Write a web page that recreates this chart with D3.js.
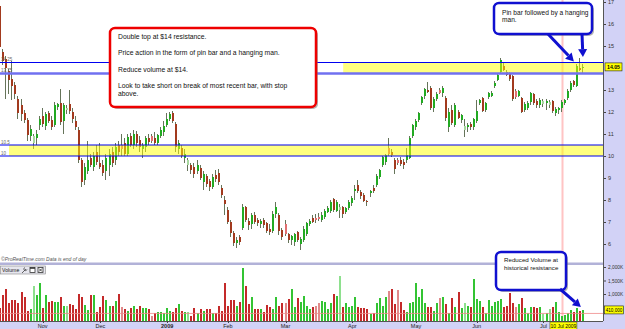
<!DOCTYPE html>
<html>
<head>
<meta charset="utf-8">
<script src="https://cdn.jsdelivr.net/npm/d3@7"></script>
<style>
  body { margin: 0; background: #fff; overflow: hidden; }
  svg { display: block; font-family: "Liberation Sans", Arial, sans-serif; }
</style>
</head>
<body>
<div id="chart"></div>
<script>
// daily bars, [open, high, low, close] (mid Oct 2008 .. 10 Jul 2009)
const bars = [
  [16.8,17.05,14.8,14.95],[14.75,14.85,14.15,14.3],[14.4,14.55,12.6,14.0],[13.85,13.95,12.8,13.45],[13.5,14.3,12.55,13.2],
  [13.25,13.35,12.6,12.8],[12.6,12.75,11.7,11.95],[12.3,12.6,11.6,11.9],[11.95,12.1,11.5,11.65],[11.65,11.75,10.7,10.95],
  [10.9,11.4,10.7,11.25],[10.6,11.0,10.3,10.9],[10.8,11.2,10.5,11.0],[11.4,11.8,11.2,11.7],[11.8,12.2,11.3,11.45],
  [11.35,12.0,11.2,11.9],[11.95,12.05,11.5,11.6],[11.65,11.8,11.2,11.3],[11.4,12.45,11.3,12.3],[12.25,12.4,12.1,12.35],
  [12.4,13.05,11.4,11.55],[11.6,12.4,11.0,12.3],[12.1,12.3,11.9,12.2],[12.35,13.0,11.9,12.05],[12.0,12.2,11.5,11.7],
  [11.6,11.8,11.2,11.3],[11.2,11.3,9.7,9.8],[9.8,9.9,8.6,8.8],[8.9,9.7,8.7,9.5],[9.3,10.7,9.2,9.8],
  [9.9,10.1,9.5,9.6],[9.5,10.2,9.3,10.0],[10.2,10.5,9.6,9.75],[9.7,10.6,9.4,9.5],[9.6,9.8,9.1,9.25],
  [9.3,10.1,8.9,9.9],[9.6,10.3,9.1,10.1],[10.2,10.4,9.5,9.7],[9.8,10.6,9.6,10.4],[10.5,10.7,10.0,10.2],
  [10.5,11.0,10.0,10.3],[10.6,10.8,10.0,10.1],[10.1,11.0,10.0,10.85],[10.9,11.05,10.4,10.5],[10.5,11.2,10.3,11.0],
  [11.0,11.15,10.4,10.6],[10.75,10.9,10.2,10.4],[10.3,10.6,9.9,10.5],[10.4,10.9,10.2,10.8],[10.8,11.0,10.5,10.65],
  [10.9,11.0,10.6,10.7],[10.8,11.1,10.5,10.6],[10.6,11.0,10.5,10.95],[10.9,11.3,10.8,11.2],[11.1,11.6,10.9,11.35],
  [11.4,11.95,11.3,11.7],[11.7,12.0,11.6,11.9],[11.95,12.05,11.5,11.6],[11.45,11.55,10.2,10.4],[10.3,10.75,10.1,10.6],
  [10.35,10.5,9.9,10.0],[9.9,10.3,9.7,10.1],[9.6,9.9,9.3,9.8],[9.6,9.7,9.2,9.35],[9.5,9.7,9.0,9.2],
  [9.3,9.8,9.2,9.6],[9.45,9.6,8.9,9.0],[8.8,9.3,8.45,9.2],[9.1,9.2,8.6,8.75],[8.85,8.95,8.4,8.6],
  [8.6,9.2,8.5,9.05],[9.15,9.35,8.8,8.95],[9.25,9.4,8.7,8.8],[8.55,8.7,8.1,8.25],[8.0,8.2,7.3,7.8],
  [7.55,7.7,6.9,7.0],[7.0,7.1,6.3,6.5],[6.5,6.6,5.9,6.05],[6.05,6.3,5.8,6.2],[6.3,6.4,5.95,6.1],
  [6.75,7.8,6.65,7.7],[7.7,7.75,7.0,7.1],[7.05,7.2,6.65,6.85],[6.9,7.4,6.7,7.3],[7.3,7.45,6.9,7.0],
  [7.1,7.2,6.8,6.95],[6.9,7.15,6.75,7.05],[7.1,7.2,6.75,6.85],[6.95,7.0,6.5,6.6],[6.7,6.9,6.4,6.55],
  [6.6,7.5,6.5,7.35],[7.35,7.9,7.2,7.7],[7.3,7.4,6.4,6.6],[6.65,6.75,6.2,6.3],[6.9,7.1,6.35,6.45],
  [6.45,6.5,6.05,6.2],[6.2,6.4,5.95,6.35],[6.1,6.5,5.9,6.45],[6.55,6.6,6.1,6.2],[6.0,6.3,5.75,6.25],
  [6.2,6.8,6.1,6.7],[6.45,7.0,6.35,6.95],[6.9,7.15,6.8,7.05],[7.2,7.3,6.95,7.0],[7.2,7.35,6.95,7.1],
  [7.25,7.4,7.05,7.15],[7.1,7.45,7.0,7.3],[7.25,7.6,7.15,7.5],[7.45,7.75,7.4,7.65],[7.5,8.0,7.4,7.9],
  [8.05,8.1,7.45,7.55],[7.5,8.0,7.45,7.9],[7.55,7.8,7.2,7.7],[7.7,7.75,7.2,7.35],[7.45,7.7,7.35,7.65],
  [7.65,8.0,7.55,7.9],[7.85,8.2,7.75,8.1],[8.4,8.7,8.0,8.5],[8.7,8.9,8.3,8.4],[8.35,8.45,8.05,8.2],
  [8.25,8.3,7.9,7.95],[7.95,8.0,7.75,7.9],[8.3,8.45,8.15,8.4],[8.55,8.7,8.3,8.4],[8.7,9.2,8.6,9.1],
  [9.05,9.4,8.95,9.35],[9.6,10.0,9.5,9.95],[9.75,10.1,9.6,10.05],[10.35,10.8,10.0,10.1],[10.2,10.3,9.95,10.05],
  [9.8,9.9,9.2,9.4],[9.8,9.9,9.6,9.7],[9.8,9.95,9.55,9.65],[9.75,9.85,9.4,9.6],[9.8,10.35,9.7,10.05],
  [9.9,10.9,9.85,10.8],[10.9,11.45,10.8,11.4],[11.3,11.7,11.2,11.6],[11.65,12.0,11.55,11.95],[12.4,12.75,12.3,12.7],
  [12.75,13.1,12.6,13.05],[13.0,13.35,12.85,12.9],[13.1,13.2,12.1,12.2],[12.2,12.7,12.0,12.6],[12.6,12.9,12.5,12.8],
  [13.0,13.1,12.8,12.85],[12.85,13.2,12.7,13.1],[12.65,12.75,11.6,11.75],[11.3,12.2,11.1,12.0],[12.1,12.3,11.4,11.5],
  [11.4,12.4,11.3,12.3],[12.0,12.1,11.7,11.75],[11.65,11.9,11.5,11.85],[11.2,11.7,10.85,11.35],[11.3,11.5,11.1,11.4],
  [11.45,11.55,11.2,11.3],[11.3,11.75,11.2,11.7],[11.6,12.55,11.5,12.05],[12.4,12.6,12.3,12.55],[12.65,12.7,12.0,12.05],
  [12.1,12.45,12.0,12.4],[12.7,12.9,12.6,12.85],[12.75,12.95,12.7,12.85],[13.2,13.4,13.1,13.3],[13.45,13.75,13.4,13.7],
  [13.8,14.45,13.75,14.35],[14.1,14.25,13.85,13.9],[13.8,13.9,13.65,13.7],[13.75,13.8,13.4,13.5],[13.65,13.7,12.5,12.6],
  [12.95,13.05,12.6,12.7],[12.75,13.0,12.7,12.95],[12.65,12.7,11.95,12.0],[12.1,12.45,12.0,12.35],[12.2,12.5,12.1,12.4],
  [12.45,12.9,12.3,12.85],[12.8,12.85,12.3,12.4],[12.5,12.6,12.2,12.3],[12.3,12.65,12.2,12.55],[12.35,12.6,12.25,12.5],
  [12.4,12.6,12.1,12.5],[12.3,12.55,12.2,12.45],[12.5,12.55,11.95,12.05],[11.95,12.25,11.8,12.15],[12.1,12.25,11.9,12.2],
  [12.2,12.55,12.0,12.45],[12.4,12.6,12.3,12.55],[12.65,13.05,12.55,12.95],[13.0,13.4,12.9,13.3],[13.4,13.45,13.15,13.25],
  [13.2,14.2,13.15,14.1],[14.0,14.45,13.85,13.9],[14.0,14.2,13.75,14.05]
];

// daily volume, thousands of shares
const volume = [
  480,960,1190,670,780,780,670,1070,890,370, 440,1300,960,1410,480,960,700,740,700,700,
  890,560,560,630,590,440,1000,890,590,410, 960,960,330,520,930,780,560,560,740,1000,
  520,440,370,480,560,440,560,480,480,440, 190,300,330,330,300,480,370,330,480,630,
  370,330,330,190,480,300, 440,370,440,440,300,300,560,370,1410,560,
  780,780,560,700,1960,1300,630,890,440,440, 440,330,590,520,440,890,560,670,670,810,
  1190,520,850,700,930,560,440,520,560,670, 740,700,440,670,1000,930,1670,520,670,520,
  560,890,520,480,480,440,260,300,670,850, 560,890,1110,1190,630,1150,700,410,330,670,
  700,1410,890,1190,670,520,520,370,670,850, 890,630,300,850,520,1070,480,670,560,520,
  1560,810,740,520,300,780,560,700,740,810, 520,560,1040,670,520,630,850,480,300,520,
  520,480,520,260,300,440,520,700,330,190, 220,300,410,330,480,370,410
];

const monthLabels = ['Nov', 'Dec', '2009', 'Feb', 'Mar', 'Apr', 'May', 'Jun', 'Jul'];
const monthIndex = [14, 33, 55, 75, 94, 116, 137, 157, 179];
const priceTicks = [6, 7, 8, 9, 10, 11, 12, 13, 14, 15, 16, 17];
const volumeTicks = [500, 1000, 1500, 2000];
const resistance = [13.75, 14.25];
const support = [10, 10.5];
const markerBar = 185;
const volumeLevel = 280;
const lastDate = '10 Jul 2009';

const notes = [
  'Double top at $14 resistance.',
  'Price action in the form of pin bar and a hanging man.',
  'Reduce volume at $14.',
  'Look to take short on break of most recent bar, with stop',
  'above.'
];
const pinNote = ['Pin bar followed by a hanging', 'man.'];
const volNote = ['Reduced Volume at', 'historical resistance'];

// layout
const W = 625, H = 329;
const right = 603;
const priceBottom = 262;
const volTop = 266, volBottom = 321;

const svg = d3.select('#chart').append('svg').attr('width', W).attr('height', H);

const x = d3.scaleBand().domain(d3.range(bars.length)).range([-0.8, 584]).paddingInner(0.3);
const cx = i => x(i) + x.bandwidth() / 2;
const y = d3.scaleLinear().domain([5, 17]).range([266, 2]);
const yv = d3.scaleLinear().domain([0, 2000]).range([volBottom, 267]);

const lastClose = bars[bars.length - 1][3];
const lastVol = volume[volume.length - 1];

// colours: direction of the bar, pale when the close went against it
function shade(i) {
  const [o, , , c] = bars[i];
  const prev = i > 0 ? bars[i - 1][3] : o;
  const up = c >= o;
  const pale = up ? c < prev : c > prev;
  return { up, pale };
}
const candleFill = s => s.up ? (s.pale ? '#a8d8a0' : '#22aa22') : (s.pale ? '#e07070' : '#a23a1e');
const volFill = s => s.up ? (s.pale ? '#8ee08e' : '#33c433') : (s.pale ? '#e08a8a' : '#c42a2a');

// backgrounds
svg.append('rect').attr('width', W).attr('height', H).attr('fill', '#fff');
svg.append('rect').attr('x', right).attr('width', W - right).attr('height', H).attr('fill', '#d2d2f6');
svg.append('rect').attr('y', volBottom).attr('width', W).attr('height', H - volBottom).attr('fill', '#d2d2f6');

// pink marker line
svg.append('line')
  .attr('x1', Math.round(cx(markerBar)) + 0.5).attr('x2', Math.round(cx(markerBar)) + 0.5)
  .attr('y1', 0).attr('y2', volBottom)
  .attr('stroke', '#ffc4c4').attr('stroke-width', 2);

// price panel
svg.append('clipPath').attr('id', 'pclip')
  .append('rect').attr('width', right).attr('height', priceBottom);
const price = svg.append('g').attr('clip-path', 'url(#pclip)').style('shape-rendering', 'crispEdges');

const candle = price.selectAll('g.candle').data(bars).join('g').attr('class', 'candle');
candle.append('line')
  .attr('x1', (d, i) => Math.round(cx(i) - 1) + 0.5)
  .attr('x2', (d, i) => Math.round(cx(i) - 1) + 0.5)
  .attr('y1', d => y(d[1])).attr('y2', d => y(d[2]))
  .attr('stroke', '#66745a').attr('stroke-width', 1);
candle.append('rect')
  .attr('x', (d, i) => Math.round(cx(i) - 1))
  .attr('width', 2)
  .attr('y', d => y(Math.max(d[0], d[3])))
  .attr('height', d => Math.max(1, Math.abs(y(d[0]) - y(d[3]))))
  .attr('fill', (d, i) => candleFill(shade(i)));

// yellow zones drawn over the candles
svg.append('rect')
  .attr('x', cx(113)).attr('width', right - cx(113))
  .attr('y', y(resistance[1])).attr('height', y(resistance[0]) - y(resistance[1]))
  .attr('fill', '#ffff00').attr('opacity', 0.5);
svg.append('rect')
  .attr('x', 9).attr('width', right - 9)
  .attr('y', y(support[1])).attr('height', y(support[0]) - y(support[1]))
  .attr('fill', '#ffff00').attr('opacity', 0.5);

const levels = [
  { v: resistance[1], w: 1.2, c: '#0000f0' },
  { v: resistance[0], w: 2.5, c: '#7070f0' },
  { v: support[1], w: 1.2, c: '#0000f0' },
  { v: support[0], w: 1.2, c: '#0000f0' }
];
svg.selectAll('line.level').data(levels).join('line').attr('class', 'level')
  .attr('x1', 0).attr('x2', right)
  .attr('y1', d => y(d.v)).attr('y2', d => y(d.v))
  .attr('stroke', d => d.c).attr('stroke-width', d => d.w);
svg.selectAll('text.level').data(levels).join('text').attr('class', 'level')
  .attr('x', 1).attr('y', d => y(d.v) - 1.5)
  .attr('font-size', 4.5).attr('fill', '#666')
  .text(d => d3.format('~g')(d.v));

// price axis (the last-price badge covers the tick it sits on)
const pAxis = svg.append('g').attr('transform', `translate(${right},0)`)
  .call(d3.axisRight(y)
    .tickValues(priceTicks.filter(t => Math.abs(y(t) - y(lastClose)) > 5))
    .tickSize(3).tickPadding(2).tickFormat(d3.format('d')));
pAxis.select('.domain').remove();
pAxis.selectAll('text').attr('font-size', 5.5).attr('fill', '#333');
pAxis.selectAll('line').attr('stroke', '#444');

svg.append('rect').attr('x', right + 2).attr('y', y(lastClose) - 4).attr('width', 17).attr('height', 8)
  .attr('fill', '#ffff00').attr('stroke', '#222').attr('stroke-width', 0.6);
svg.append('text').attr('x', right + 10.5).attr('y', y(lastClose) + 2)
  .attr('text-anchor', 'middle').attr('font-size', 5.2).attr('font-weight', 'bold')
  .text(d3.format('.2f')(lastClose));

// panel separator and footer text
svg.append('text').attr('x', 1).attr('y', 260.5)
  .attr('font-size', 5).attr('font-style', 'italic').attr('fill', '#555')
  .text('\u00a9ProRealTime.com   Data is end of day');
svg.append('rect').attr('x', 0).attr('y', priceBottom + 0.5).attr('width', right).attr('height', 2.5)
  .attr('fill', '#b2b2d8');

// volume panel
const vol = svg.append('g').style('shape-rendering', 'crispEdges');
vol.selectAll('rect').data(volume).join('rect')
  .attr('x', (d, i) => Math.round(cx(i) - 1))
  .attr('width', 2)
  .attr('y', d => yv(d))
  .attr('height', d => volBottom - yv(d))
  .attr('fill', (d, i) => volFill(shade(i)));

svg.append('line').attr('x1', 0).attr('x2', right)
  .attr('y1', yv(volumeLevel)).attr('y2', yv(volumeLevel))
  .attr('stroke', '#f08a8a').attr('stroke-width', 0.8);

// volume header box
const head = svg.append('g');
head.append('rect').attr('x', 0.5).attr('y', volTop).attr('width', 45).attr('height', 8)
  .attr('fill', '#e6e6ee').attr('stroke', '#888').attr('stroke-width', 0.6);
head.append('text').attr('x', 2).attr('y', volTop + 6).attr('font-size', 5.2).attr('fill', '#222').text('Volume');
head.append('path').attr('d', `M22,${volTop + 7} L26,${volTop + 3} M25,${volTop + 1.5} a1.6,1.6 0 1,0 2,2`)
  .attr('stroke', '#444').attr('fill', 'none').attr('stroke-width', 0.8);
head.append('rect').attr('x', 30).attr('y', volTop + 1.5).attr('width', 5).attr('height', 5)
  .attr('fill', '#fff').attr('stroke', '#333').attr('stroke-width', 0.8);
head.append('rect').attr('x', 30).attr('y', volTop + 1.5).attr('width', 5).attr('height', 1.3).attr('fill', '#333');
head.append('rect').attr('x', 38).attr('y', volTop + 1.5).attr('width', 5).attr('height', 5)
  .attr('fill', '#fff').attr('stroke', '#333').attr('stroke-width', 0.8);
head.append('path').attr('d', `M39,${volTop + 2.5} L42,${volTop + 5.5} M42,${volTop + 2.5} L39,${volTop + 5.5}`)
  .attr('stroke', '#333').attr('stroke-width', 0.9);

// volume axis (the last-volume badge covers the tick it sits on)
const vAxis = svg.append('g').attr('transform', `translate(${right},0)`)
  .call(d3.axisRight(yv)
    .tickValues(volumeTicks.filter(t => Math.abs(yv(t) - yv(lastVol)) > 6))
    .tickSize(3).tickPadding(2).tickFormat(d => d3.format(',')(d) + 'K'));
vAxis.select('.domain').remove();
vAxis.selectAll('text').attr('font-size', 4.8).attr('fill', '#333');
vAxis.selectAll('line').attr('stroke', '#444');

svg.append('rect').attr('x', right + 1.5).attr('y', yv(lastVol) - 4).attr('width', 19).attr('height', 8)
  .attr('fill', '#ffff00').attr('stroke', '#222').attr('stroke-width', 0.6);
svg.append('text').attr('x', right + 11).attr('y', yv(lastVol) + 1.8)
  .attr('text-anchor', 'middle').attr('font-size', 4.6)
  .text(d3.format(',')(lastVol * 1000));

// frame lines
svg.append('line').attr('x1', right + 0.5).attr('x2', right + 0.5).attr('y1', 0).attr('y2', volBottom)
  .attr('stroke', '#555').attr('stroke-width', 1);
svg.append('line').attr('x1', 0).attr('x2', right).attr('y1', volBottom + 0.5).attr('y2', volBottom + 0.5)
  .attr('stroke', '#555').attr('stroke-width', 1);

// date axis
const dates = svg.append('g');
dates.selectAll('line').data(monthIndex).join('line')
  .attr('x1', i => Math.round(cx(i)) + 0.5).attr('x2', i => Math.round(cx(i)) + 0.5)
  .attr('y1', volBottom).attr('y2', volBottom + 2).attr('stroke', '#444');
dates.selectAll('text').data(monthLabels).join('text')
  .attr('x', (d, k) => cx(monthIndex[k])).attr('y', 328)
  .attr('text-anchor', 'middle').attr('font-size', 5.5)
  .attr('font-weight', d => /\d/.test(d) ? 'bold' : 'normal')
  .attr('fill', '#222').text(d => d);
const lastX = cx(bars.length - 1);
svg.append('rect').attr('x', lastX - 33).attr('y', volBottom + 1).attr('width', 27).attr('height', 7.5)
  .attr('fill', '#ffff00').attr('stroke', '#333').attr('stroke-width', 0.5);
svg.append('text').attr('x', lastX - 19.5).attr('y', 327.6).attr('text-anchor', 'middle')
  .attr('font-size', 5).text(lastDate);

// annotations
function box(g, x0, y0, w, h, stroke) {
  g.append('rect').attr('x', x0 + 2).attr('y', y0 + 2).attr('width', w).attr('height', h).attr('rx', 5)
    .attr('fill', '#777').attr('opacity', 0.55);
  g.append('rect').attr('x', x0).attr('y', y0).attr('width', w).attr('height', h).attr('rx', 5)
    .attr('fill', '#fff').attr('stroke', stroke).attr('stroke-width', 2.5);
}
function arrow(g, x1, y1, x2, y2, col) {
  const a = Math.atan2(y2 - y1, x2 - x1), hl = 8, hw = 4.5;
  const bx = x2 - hl * Math.cos(a), by = y2 - hl * Math.sin(a);
  g.append('line').attr('x1', x1).attr('y1', y1).attr('x2', bx).attr('y2', by)
    .attr('stroke', col).attr('stroke-width', 3);
  g.append('path')
    .attr('d', `M${x2},${y2}L${bx + hw * Math.sin(a)},${by - hw * Math.cos(a)}L${bx - hw * Math.sin(a)},${by + hw * Math.cos(a)}Z`)
    .attr('fill', col);
}
const ann = svg.append('g');

box(ann, 110, 28, 206, 79, '#ee0000');
ann.selectAll('text.note').data(notes).join('text').attr('class', 'note')
  .attr('x', 118).attr('y', (d, i) => [39, 55, 71.5, 87.5, 96][i])
  .attr('font-size', 6.8).attr('fill', '#111').text(d => d);

const blue = '#1010d0';
box(ann, 494, 3, 98, 31, blue);
ann.selectAll('text.pin').data(pinNote).join('text').attr('class', 'pin')
  .attr('x', 502).attr('y', (d, i) => 14.5 + i * 7.5)
  .attr('font-size', 6.6).attr('fill', '#111').text(d => d);
arrow(ann, 548, 34, cx(190) - 3, y(14.3), blue);
arrow(ann, 582, 34, cx(192), y(14.45) - 1, blue);

box(ann, 496, 252, 70, 38, blue);
ann.selectAll('text.vn').data(volNote).join('text').attr('class', 'vn')
  .attr('x', 504).attr('y', (d, i) => 262 + i * 8.3)
  .attr('font-size', 6.2).attr('fill', '#111').text(d => d);
arrow(ann, 560, 289, cx(191) + 1, yv(480) - 1, blue);
</script>
</body>
</html>
